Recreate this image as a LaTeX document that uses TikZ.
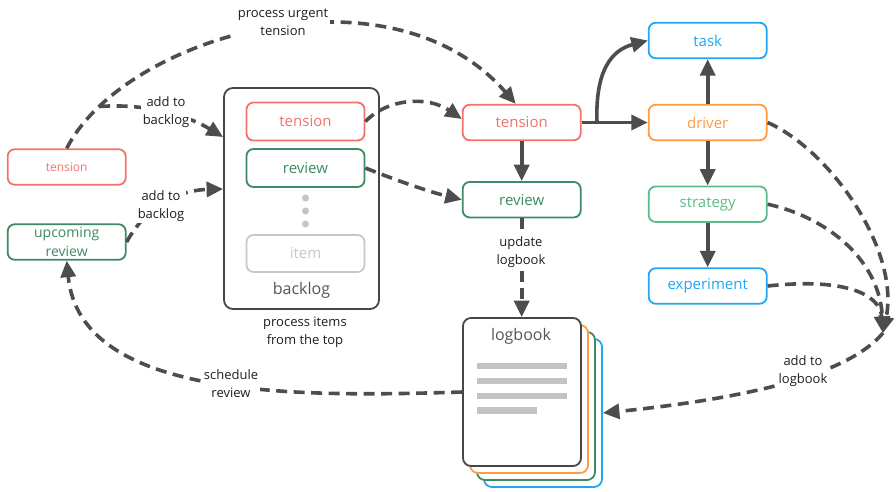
\documentclass[tikz,border=0pt]{standalone}
\usepackage{fontspec}
\setmainfont{Open Sans}
\usetikzlibrary{arrows.meta}
\definecolor{cred}{HTML}{F4726B}
\definecolor{cgreen}{HTML}{3D8B62}
\definecolor{cmint}{HTML}{5DBA8B}
\definecolor{corange}{HTML}{FF9A45}
\definecolor{cblue}{HTML}{22A7F2}
\definecolor{cgray}{HTML}{C8C8C8}
\definecolor{dotc}{HTML}{C4C4C4}
\definecolor{framec}{HTML}{474747}
\definecolor{framet}{HTML}{555555}
\definecolor{linkc}{HTML}{4D4D4D}
\definecolor{labelc}{HTML}{1E1E1E}
\definecolor{barc}{HTML}{C3C3C3}
\begin{document}
\begin{tikzpicture}[x=1pt,y=-1pt,
  box/.style={draw, fill=white, rounded corners=7pt, line width=1.8pt,
    minimum width=118pt, minimum height=35.5pt, inner sep=0pt,
    font=\fontsize{15}{18}\selectfont},
  lbl/.style={fill=white, align=center, inner sep=1.5pt, text=labelc,
    font=\fontsize{13}{18}\selectfont},
  conn/.style={draw=linkc, line width=3.6pt, dash pattern=on 11pt off 6.5pt,
    -{Triangle[length=16.5pt,width=15pt]}},
  flow/.style={draw=linkc, line width=3.6pt, -{Triangle[length=16.5pt,width=15pt]}},
  sheet/.style={draw, fill=white, rounded corners=8pt, line width=1.8pt,
    minimum width=118pt, minimum height=148pt, inner sep=0pt},
  dot/.style={circle, fill=dotc, minimum size=7pt, inner sep=0pt},
]
\useasboundingbox (0,0) rectangle (896,491);

% backlog container with its queue
\node[draw=framec, line width=1.8pt, rounded corners=9pt, minimum width=155pt,
  minimum height=221pt] (bl) at (301.5,198.5) {};
\node[text=framet, font=\fontsize{16}{19}\selectfont] (bllabel) at (301.5,290) {backlog};
\node[box, draw=cred, text=cred, minimum height=38pt] (bt) at (305.5,121.5) {tension};
\node[box, draw=cgreen, text=cgreen, minimum height=38pt] (br) at (305.5,168) {review};
\node[dot] (d1) at (305.5,198) {};
\node[dot] (d2) at (305.5,211) {};
\node[dot] (d3) at (305.5,224) {};
\node[box, draw=cgray, text=cgray, minimum height=37pt] (bi) at (305.5,253.5) {item};
\node[lbl] (plbl) at (305,332) {process items\\from the top};

% incoming items
\node[box, draw=cred, text=cred, font=\fontsize{12}{14}\selectfont] (lt) at (66.7,167) {tension};
\node[box, draw=cgreen, text=cgreen, align=center, font=\fontsize{14}{18.5}\selectfont]
  (lr) at (66.7,242) {upcoming\\review};

% processing column
\node[box, draw=cred, text=cred] (mt) at (521.7,122.5) {tension};
\node[box, draw=cgreen, text=cgreen] (mr) at (521.7,199.7) {review};

% outcomes
\node[box, draw=cblue, text=cblue] (task) at (707.7,40.5) {task};
\node[box, draw=corange, text=corange] (drv) at (707.7,122.5) {driver};
\node[box, draw=cmint, text=cmint] (strat) at (707.7,204.2) {strategy};
\node[box, draw=cblue, text=cblue] (expt) at (707.7,286) {experiment};

% logbook stack
\node[sheet, draw=cblue] (s3) at (543,413) {};
\node[sheet, draw=cgreen] (s2) at (536,406) {};
\node[sheet, draw=corange] (s1) at (529,399) {};
\node[sheet, draw=framec] (lb) at (522,392) {};
\node[text=framet, font=\fontsize{16}{19}\selectfont] (lbt) at (521,336) {logbook};
\fill[barc] (477,362.7) rectangle (566.7,369.3);
\fill[barc] (477,377.7) rectangle (566.7,384.3);
\fill[barc] (477,392.7) rectangle (566.7,399.3);
\fill[barc] (477,407.3) rectangle (536.7,414);

% solid flow
\draw[flow] (mt) -- (drv);
\coordinate (sp) at (597,122.5);
\draw[flow] (sp) .. controls (595,70) and (612,50) .. (task.west);
\draw[flow] (drv) -- (task);
\draw[flow] (drv) -- (strat);
\draw[flow] (strat) -- (expt);
\draw[flow] (mt) -- (mr);

% dashed flow
\draw[conn] (lt.north) .. controls (125,35) and (390,-40) .. ([xshift=-6pt]mt.north)
  coordinate[pos=0.13] (fork);
\draw[conn] (fork) .. controls (150,103) and (190,117) .. (bl.west |- 0,137);
\draw[conn] (lr.east) .. controls (150,200) and (185,190) .. (bl.west |- 0,189);
\draw[conn] (bt.east) .. controls (388,98) and (428,96) .. (mt.west |- 0,119);
\draw[conn] (br.east) .. controls (398,181) and (430,192) .. (mr.west);
\draw[conn] (mr.south) -- (mr.south |- lb.north);
\draw[conn] (lb.west) .. controls (300,397) and (80,400) .. (lr.south);
\coordinate (mg) at (883,333);
\draw[conn] (drv.east) .. controls (830,150) and (900,250) .. (mg);
\draw[conn] (strat.east) .. controls (830,218) and (880,262) .. (mg);
\draw[conn] (expt.east) .. controls (840,278) and (880,292) .. (mg);
\draw[conn] (mg) .. controls (850,372) and (760,397) .. (s3.east);

% connector labels
\node[lbl] (l1) at (283,22) {process urgent\\tension};
\node[lbl] (l2) at (166,112) {add to\\backlog};
\node[lbl] (l3) at (161,206) {add to\\backlog};
\node[lbl] (l4) at (231,384) {schedule\\review};
\node[lbl] (l5) at (521,252) {update\\logbook};
\node[lbl] (l6) at (803,371) {add to\\logbook};
\end{tikzpicture}
\end{document}
